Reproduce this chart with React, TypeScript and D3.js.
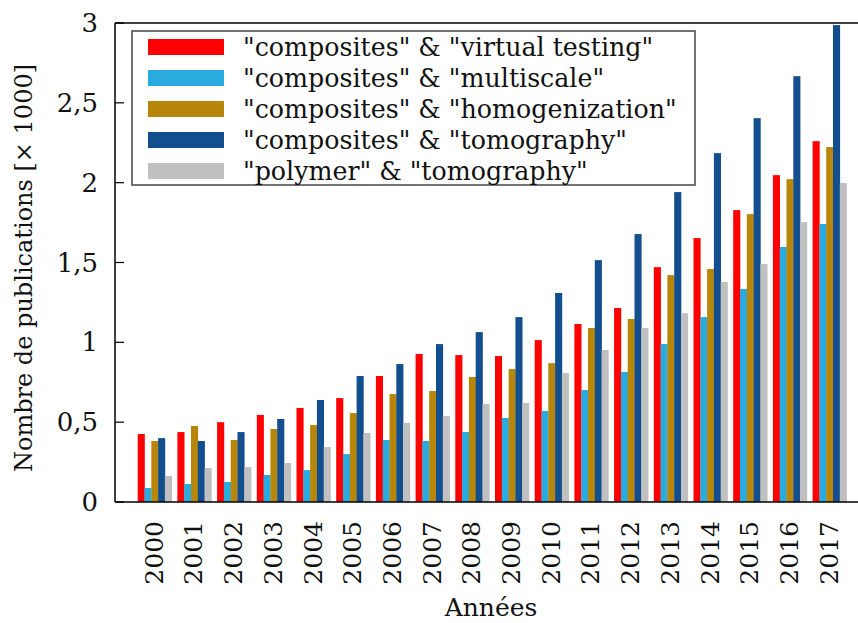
import React from "react";
import * as d3 from "d3";

const years = ["2000","2001","2002","2003","2004","2005","2006","2007","2008","2009","2010","2011","2012","2013","2014","2015","2016","2017"];
const seriesNames = [
  "\"composites\" & \"virtual testing\"",
  "\"composites\" & \"multiscale\"",
  "\"composites\" & \"homogenization\"",
  "\"composites\" & \"tomography\"",
  "\"polymer\" & \"tomography\"",
];
const seriesColors = ["#ff0000", "#29abe0", "#b8860b", "#134f8e", "#c0c0c0"];
const virtualTesting = [0.426,0.438,0.50,0.545,0.589,0.651,0.789,0.927,0.920,0.914,1.014,1.115,1.215,1.471,1.653,1.828,2.047,2.26];
const multiscale = [0.088,0.113,0.125,0.169,0.20,0.30,0.388,0.382,0.438,0.526,0.570,0.701,0.814,0.989,1.158,1.334,1.597,1.741];
const homogenization = [0.382,0.476,0.388,0.457,0.482,0.557,0.676,0.695,0.783,0.833,0.870,1.09,1.146,1.421,1.459,1.803,2.022,2.223];
const tomography = [0.40,0.382,0.438,0.52,0.639,0.789,0.864,0.989,1.064,1.158,1.309,1.515,1.678,1.941,2.185,2.404,2.667,2.987];
const polymerTomography = [0.163,0.213,0.219,0.244,0.344,0.432,0.495,0.539,0.614,0.620,0.808,0.952,1.09,1.183,1.378,1.49,1.753,1.998];
const seriesValues = [virtualTesting, multiscale, homogenization, tomography, polymerTomography];
const yTicks = [0, 0.5, 1, 1.5, 2, 2.5, 3];
const yTickLabels = ["0", "0,5", "1", "1,5", "2", "2,5", "3"];
const yTitle = "Nombre de publications [× 1000]";
const xTitle = "Années";

const W = 858, H = 623;
const FONT = "'DejaVu Serif', serif";

export default function App() {
  const left = 115, right = 858, top = 23, bottom = 502;
  const step = 39.7;
  const x = d3.scaleLinear().domain([-1, years.length]).range([left, left + step * (years.length + 1)]);
  const y = d3.scaleLinear().domain([0, 3]).range([bottom, top]);
  const barW = 6.8;
  const nS = seriesValues.length;

  return (
    <svg width={W} height={H} style={{ position: "absolute", left: 0, top: 0, background: "#fff" }} fontFamily={FONT}>
      {/* bars */}
      {seriesValues.map((vals, s) =>
        vals.map((v, i) => {
          const cx = x(i);
          const x0 = cx - (nS * barW) / 2 + s * barW;
          return (
            <rect key={`${s}-${i}`} x={x0} y={y(v)} width={barW + 0.3} height={bottom - y(v)} fill={seriesColors[s]} />
          );
        })
      )}
      {/* frame */}
      <line x1={left} x2={right} y1={top} y2={top} stroke="#000" strokeWidth={1.5} />
      <line x1={left} x2={right} y1={bottom} y2={bottom} stroke="#000" strokeWidth={1.5} />
      <line x1={left} x2={left} y1={top} y2={bottom} stroke="#000" strokeWidth={1.5} />
      {/* y ticks */}
      {yTicks.map((t, i) => (
        <g key={t}>
          <line x1={left} x2={left + 9} y1={y(t)} y2={y(t)} stroke="#000" strokeWidth={1.2} />
          <text x={98} y={y(t)} dy="0.35em" textAnchor="end" fontSize={26} fill="#111">{yTickLabels[i]}</text>
        </g>
      ))}
      {/* x labels */}
      {years.map((yr, i) => (
        <text key={yr} transform={`translate(${x(i) + 8},${521}) rotate(-90)`} textAnchor="end" fontSize={25} fill="#111">{yr}</text>
      ))}
      {/* titles */}
      <text transform={`translate(32,${268}) rotate(-90)`} textAnchor="middle" fontSize={24} fill="#111">{yTitle}</text>
      <text x={491} y={616} textAnchor="middle" fontSize={25} fill="#111">{xTitle}</text>
      {/* legend */}
      <rect x={132} y={31} width={563} height={154} fill="#fff" stroke="#444" strokeWidth={1.5} />
      {seriesNames.map((n, s) => (
        <g key={n}>
          <rect x={148} y={39 + s * 31} width={76} height={16} fill={seriesColors[s]} />
          <text x={243} y={47 + s * 31} dy="0.35em" fontSize={25.3} fill="#111">{n}</text>
        </g>
      ))}
    </svg>
  );
}
